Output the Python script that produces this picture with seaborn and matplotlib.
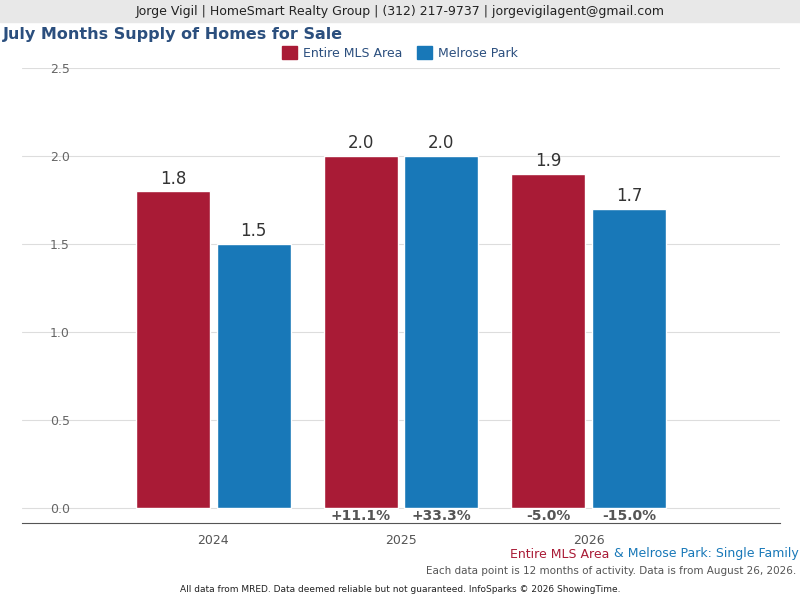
import pandas as pd
import matplotlib
matplotlib.use('Agg')
import matplotlib.pyplot as plt
import seaborn as sns

years = ['2024', '2025', '2026']
areas = ['Entire MLS Area', 'Melrose Park']
mls_values = [1.8, 2.0, 1.9]
melrose_values = [1.5, 2.0, 1.7]
mls_changes = ['', '+11.1%', '-5.0%']
melrose_changes = ['', '+33.3%', '-15.0%']
colors = ['#A91B36', '#1878B8']

df = pd.DataFrame({
    'Year': years * 2,
    'Area': [areas[0]] * 3 + [areas[1]] * 3,
    'Value': mls_values + melrose_values,
})

sns.set_style('white')
fig = plt.figure(figsize=(8, 6), dpi=100)
ax = fig.add_axes([0.0275, 0.1283, 0.9475, 0.7584])

sns.barplot(data=df, x='Year', y='Value', hue='Area', palette=colors,
            width=0.86, gap=0.08, ax=ax, legend=False, saturation=1)

ax.set_ylim(-0.085, 2.5)
ax.set_xlim(-1.02, 3.02)
ax.set_yticks([0, 0.5, 1.0, 1.5, 2.0, 2.5])
ax.set_yticklabels(['0.0', '0.5', '1.0', '1.5', '2.0', '2.5'])
ax.tick_params(axis='y', length=0, pad=-20, labelcolor='#666666', labelsize=9)
for lab in ax.get_yticklabels():
    lab.set_horizontalalignment('left')
ax.tick_params(axis='x', length=0, labelcolor='#555555', labelsize=9, pad=8)
ax.grid(axis='y', color='#dddddd', linewidth=0.8)
ax.set_axisbelow(True)
for s in ['top', 'right', 'left']:
    ax.spines[s].set_visible(False)
ax.spines['bottom'].set_color('#555555')
ax.set_xlabel('')
ax.set_ylabel('')

for i, patch_set in enumerate([ax.patches[:3], ax.patches[3:6]]):
    vals = [mls_values, melrose_values][i]
    chg = [mls_changes, melrose_changes][i]
    for p, v, c in zip(patch_set, vals, chg):
        cx = p.get_x() + p.get_width() / 2
        ax.text(cx, v + 0.02, f'{v:.1f}', ha='center', va='bottom', fontsize=12, color='#333333')
        if c:
            ax.text(cx, -0.045, c, ha='center', va='center', fontsize=10,
                    fontweight='bold', color='#555555')

# header band
fig.patches.append(plt.Rectangle((0, 1 - 22 / 600), 1, 22 / 600, transform=fig.transFigure,
                                 color='#e8e8e8', zorder=0))
fig.text(0.5, 1 - 11 / 600, 'Jorge Vigil | HomeSmart Realty Group | (312) 217-9737 | jorgevigilagent@gmail.com',
         ha='center', va='center', fontsize=9, color='#222222')
fig.text(0.004, 1 - 35 / 600, 'July Months Supply of Homes for Sale', ha='left', va='center',
         fontsize=11.5, fontweight='bold', color='#2b4f7e')

# legend
from matplotlib.patches import Patch
handles = [Patch(color=colors[0], label=areas[0]), Patch(color=colors[1], label=areas[1])]
fig.legend(handles=handles, loc='center', bbox_to_anchor=(0.5, 1 - 53 / 600), ncol=2,
           frameon=False, fontsize=9, handlelength=1.2, handleheight=1.2, columnspacing=1.2,
           handletextpad=0.5, labelcolor='#2b4f7e')

# footer
t1 = fig.text(0.998, 1 - 554 / 600, ' & Melrose Park: Single Family', ha='right', va='center',
              fontsize=9, color='#1878B8')
fig.canvas.draw()
bb = t1.get_window_extent()
fig.text(bb.x0 / 800, 1 - 554 / 600, 'Entire MLS Area', ha='right', va='center',
         fontsize=9, color='#A91B36')
fig.text(0.995, 1 - 571 / 600, 'Each data point is 12 months of activity. Data is from August 26, 2026.',
         ha='right', va='center', fontsize=7.5, color='#555555')
fig.text(0.5, 1 - 590 / 600, 'All data from MRED. Data deemed reliable but not guaranteed. InfoSparks © 2026 ShowingTime.',
         ha='center', va='center', fontsize=6.5, color='#222222')

fig.savefig('out.png', dpi=100)
